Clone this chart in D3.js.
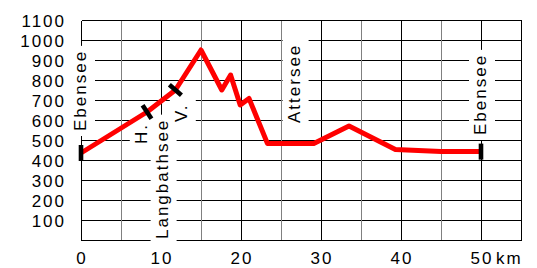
<!DOCTYPE html>
<html>
<head>
<meta charset="utf-8">
<script src="https://cdn.jsdelivr.net/npm/d3@7"></script>
<style>
  body { margin: 0; background: #fff; }
  text { font-family: "Liberation Sans", Arial, sans-serif; font-size: 17px; letter-spacing: 2px; fill: #000; }
</style>
</head>
<body>
<div class="canvas"></div>
<script>
// route profile: distance (km) and elevation (m)
const km = [0, 8.25, 11.8, 15, 17.6, 18.7, 19.9, 21, 23.3, 29.1, 33.5, 39.3, 45, 50];
const elevation = [435, 640, 750, 950, 750, 825, 675, 708, 483, 483, 570, 453, 442, 442];

// stations with black markers (index into the profile)
const markerIndex = [0, 1, 2, 13];

// place names
const labelText = ['Ebensee', 'H.', 'Langbathsee', 'V.', 'Attersee', 'Ebensee'];
const labelKm = [0, 7.6, 10.2, 12.6, 26.7, 50];
const labelElev = [545, 480, 5, 590, 585, 525];

// axes
const xTicks = [0, 10, 20, 30, 40, 50];
const xMinor = [5, 15, 25, 35, 45];
const yTicks = [100, 200, 300, 400, 500, 600, 700, 800, 900, 1000, 1100];

const width = 537, height = 268;

const svg = d3.select('.canvas')
    .append('svg')
        .attr('width', width)
        .attr('height', height);

const x = d3.scaleLinear().domain([0, 55]).range([81, 521]);
const y = d3.scaleLinear().domain([0, 1100]).range([240, 20]);

const crisp = v => Math.round(v) + 0.5;

//grid
const grid = svg.append('g').attr('shape-rendering', 'crispEdges');

grid.selectAll('line.h')
    .data(yTicks)
    .enter().append('line')
        .attr('x1', crisp(x(0))).attr('x2', crisp(x(55)))
        .attr('y1', d => crisp(y(d))).attr('y2', d => crisp(y(d)))
        .attr('stroke', '#000');

grid.selectAll('line.minor')
    .data(xMinor)
    .enter().append('line')
        .attr('x1', d => crisp(x(d))).attr('x2', d => crisp(x(d)))
        .attr('y1', crisp(y(1100))).attr('y2', crisp(y(0)))
        .attr('stroke', '#808080');

grid.selectAll('line.major')
    .data(xTicks.concat([55]))
    .enter().append('line')
        .attr('x1', d => crisp(x(d))).attr('x2', d => crisp(x(d)))
        .attr('y1', crisp(y(1100))).attr('y2', crisp(y(0)))
        .attr('stroke', '#000');

grid.append('line')
    .attr('x1', crisp(x(0))).attr('x2', crisp(x(55)))
    .attr('y1', crisp(y(0))).attr('y2', crisp(y(0)))
    .attr('stroke', '#000');

//place labels with white boxes that break the grid
const labels = svg.append('g');
labelText.forEach((t, i) => {
    const bx = x(labelKm[i]) + 5;
    const by = y(labelElev[i]);
    const g = labels.append('g');
    const box = g.append('rect').attr('fill', '#fff');
    const txt = g.append('text')
        .attr('transform', `translate(${bx},${by}) rotate(-90)`)
        .text(t);
    const len = txt.node().getComputedTextLength();
    box.attr('x', bx - 17).attr('width', 26)
        .attr('y', by - len - 4).attr('height', len + 9);
});

//profile
const line = d3.line()
    .x(d => x(d[0]))
    .y(d => y(d[1]));

const pts = km.map((k, i) => [k, elevation[i]]);

svg.append('path')
    .attr('d', line(pts))
    .attr('fill', 'none')
    .attr('stroke', '#ff0000')
    .attr('stroke-width', 5)
    .attr('stroke-linejoin', 'round');

//station markers
svg.selectAll('rect.marker')
    .data(markerIndex)
    .enter().append('rect')
        .attr('x', -2.3).attr('width', 4.6)
        .attr('y', -8).attr('height', 16)
        .attr('fill', '#000')
        .attr('transform', i => {
            const px = x(km[i]), py = y(elevation[i]);
            let a = 0;
            if (i > 0 && i < km.length - 1) {
                const dx = x(km[i + 1]) - x(km[i - 1]);
                const dy = y(elevation[i + 1]) - y(elevation[i - 1]);
                a = Math.atan2(dy, dx) * 180 / Math.PI;
            }
            return `translate(${px},${py}) rotate(${a})`;
        });

//axis labels
svg.append('g').selectAll('text')
    .data(yTicks)
    .enter().append('text')
        .attr('x', 66)
        .attr('y', d => y(d) + 7)
        .attr('text-anchor', 'end')
        .text(d => d);

svg.append('g').selectAll('text')
    .data(xTicks)
    .enter().append('text')
        .attr('x', d => x(d) + 1)
        .attr('y', 264)
        .attr('text-anchor', 'middle')
        .text(d => d);

svg.append('text')
    .attr('x', x(50) + 15)
    .attr('y', 264)
    .text('km');
</script>
</body>
</html>
